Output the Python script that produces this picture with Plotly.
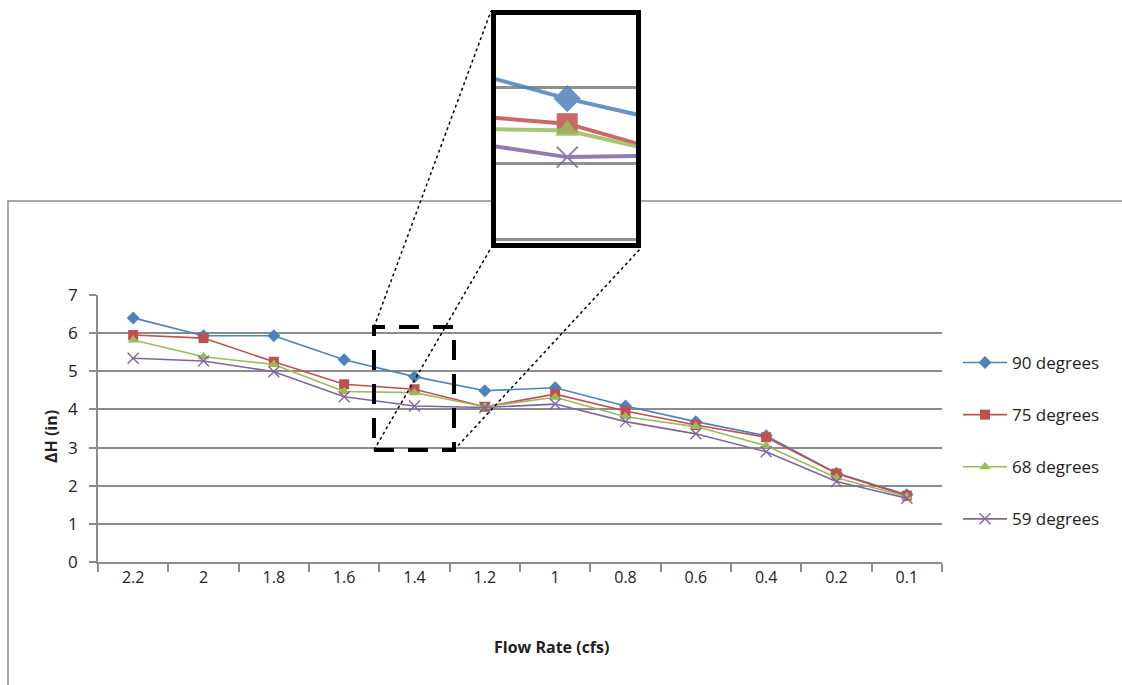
import plotly.graph_objects as go

# Flow rate categories (cfs) and head loss (in) for each bend angle
flow_rate = ["2.2", "2", "1.8", "1.6", "1.4", "1.2", "1", "0.8", "0.6", "0.4", "0.2", "0.1"]
dh_90 = [6.40, 5.93, 5.93, 5.30, 4.86, 4.49, 4.57, 4.09, 3.68, 3.31, 2.33, 1.76]
dh_75 = [5.95, 5.87, 5.25, 4.66, 4.53, 4.07, 4.40, 3.96, 3.59, 3.27, 2.32, 1.74]
dh_68 = [5.82, 5.38, 5.18, 4.47, 4.44, 4.07, 4.32, 3.81, 3.55, 3.05, 2.21, 1.71]
dh_59 = [5.34, 5.27, 4.99, 4.33, 4.09, 4.05, 4.14, 3.68, 3.36, 2.89, 2.11, 1.67]

series = [
    ("90 degrees", dh_90, "#4F81BD", "diamond"),
    ("75 degrees", dh_75, "#C0504D", "square"),
    ("68 degrees", dh_68, "#9BBB59", "triangle-up"),
    ("59 degrees", dh_59, "#8064A2", "x-thin"),
]

W, H = 1122, 685
FONT = "Open Sans"
GRID = "#8C8C8C"


def px(x):
    return x / W


def py(y):
    return 1 - y / H


fig = go.Figure()

for i, (name, vals, color, sym) in enumerate(series):
    is_x = sym == "x-thin"
    # main chart
    fig.add_trace(go.Scatter(
        x=flow_rate, y=vals, name=name, mode="lines+markers",
        line=dict(color=color, width=1.6),
        marker=dict(symbol=sym, size=10 if not is_x else 11, color=color,
                    line=dict(color=color, width=1.4 if is_x else 0)),
        legendgroup=name, xaxis="x", yaxis="y",
    ))
    # magnified view
    fig.add_trace(go.Scatter(
        x=flow_rate, y=vals, name=name, mode="lines+markers", showlegend=False,
        line=dict(color=color, width=4), opacity=0.85,
        marker=dict(symbol=sym, size=21, color=color,
                    line=dict(color=color, width=2 if is_x else 0)),
        xaxis="x2", yaxis="y2",
    ))

shapes = [
    # chart area border
    dict(type="rect", xref="paper", yref="paper", x0=px(8), x1=px(1135), y0=py(201), y1=py(700),
         line=dict(color="#8C8C8C", width=1.5), layer="below"),
    # white backing of the magnified view
    dict(type="rect", xref="paper", yref="paper", x0=px(491), x1=px(641), y0=py(248), y1=py(10),
         fillcolor="white", line=dict(width=0), layer="below"),
    # magnified view frame
    dict(type="rect", xref="paper", yref="paper", x0=px(493.5), x1=px(638.5), y0=py(245.5), y1=py(12.5),
         line=dict(color="black", width=5), layer="above"),
    # dashed selection box
    dict(type="rect", xref="paper", yref="paper", x0=px(374), x1=px(454), y0=py(450), y1=py(327),
         line=dict(color="black", width=4, dash="20px,14px"), layer="above"),
    # connector lines
    dict(type="line", xref="paper", yref="paper", x0=px(374), y0=py(327), x1=px(491), y1=py(11),
         line=dict(color="black", width=1.5, dash="dot"), layer="above"),
    dict(type="line", xref="paper", yref="paper", x0=px(374), y0=py(450), x1=px(491), y1=py(248),
         line=dict(color="black", width=1.5, dash="dot"), layer="above"),
    dict(type="line", xref="paper", yref="paper", x0=px(454), y0=py(450), x1=px(641), y1=py(248),
         line=dict(color="black", width=1.5, dash="dot"), layer="above"),
]

annotations = [
    dict(text="<b>Flow Rate (cfs)</b>", xref="paper", yref="paper", x=px(551), y=py(647),
         xanchor="center", yanchor="middle",
         showarrow=False, font=dict(family=FONT, size=16, color="#222")),
    dict(text="<b>ΔH (in)</b>", xref="paper", yref="paper", x=px(51), y=py(437), textangle=-90,
         xanchor="center", yanchor="middle",
         showarrow=False, font=dict(family=FONT, size=16, color="#222")),
]

fig.update_layout(
    template="none",
    width=W, height=H,
    margin=dict(l=0, r=0, t=0, b=0, pad=0, autoexpand=False),
    paper_bgcolor="white", plot_bgcolor="white",
    font=dict(family=FONT, size=16, color="#222"),
    xaxis=dict(
        type="category", domain=[px(98), px(942)], anchor="y", automargin=False,
        range=[-0.5, len(flow_rate) - 0.5],
        tickson="boundaries", ticks="outside", ticklen=8, tickcolor=GRID, tickwidth=1.5,
        showline=True, linecolor=GRID, linewidth=1.5, showgrid=False, zeroline=False,
        tickfont=dict(family=FONT, size=16, color="#222"),
    ),
    yaxis=dict(
        domain=[py(562), py(295)], anchor="x", range=[0, 7], dtick=1, automargin=False,
        ticks="outside", ticklen=7, tickcolor=GRID, tickwidth=1.5,
        showline=True, linecolor=GRID, linewidth=1.5,
        showgrid=True, gridcolor=GRID, gridwidth=1.5, zeroline=False,
        ticklabelstandoff=8,
        tickfont=dict(family=FONT, size=17, color="#222"),
    ),
    xaxis2=dict(
        type="category", categoryorder="array", categoryarray=flow_rate,
        domain=[px(496), px(636)], anchor="y2", range=[3.42, 4.56], automargin=False,
        showticklabels=False, ticks="", showgrid=False, showline=False, zeroline=False,
    ),
    yaxis2=dict(
        domain=[py(243), py(15)], anchor="x2", range=[2.96, 5.96], automargin=False,
        tickvals=[3, 4, 5], showticklabels=False, ticks="",
        showgrid=True, gridcolor="#909090", gridwidth=3, showline=False, zeroline=False,
    ),
    legend=dict(
        x=px(958), y=py(345), xanchor="left", yanchor="top",
        bgcolor="rgba(0,0,0,0)", borderwidth=0, tracegroupgap=27, itemwidth=44,
        font=dict(family=FONT, size=17, color="#222"),
    ),
    shapes=shapes,
    annotations=annotations,
)

fig.write_html("out.html")
